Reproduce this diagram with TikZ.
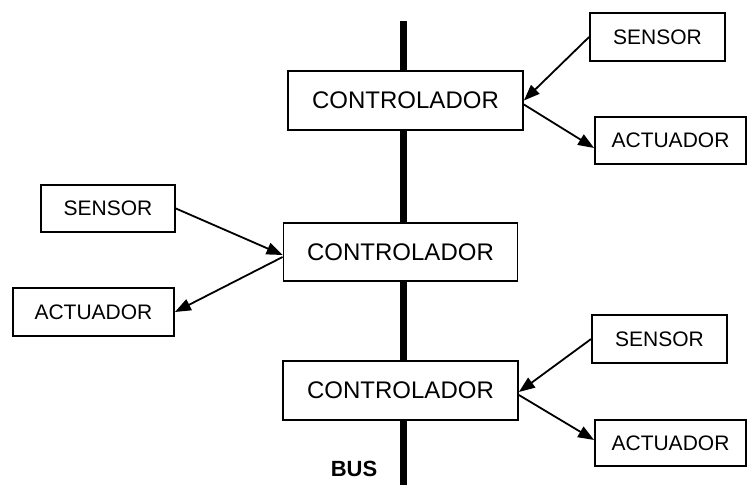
\documentclass[tikz,border=0pt]{standalone}
\usepackage{fontspec}
\setmainfont{Liberation Sans}
\usetikzlibrary{arrows.meta}

\begin{document}
\begin{tikzpicture}[x=1pt,y=-1pt,
  ctrlbox/.style={draw,line width=1.8pt,fill=white,inner sep=0pt,
    minimum width=235pt,minimum height=59pt,font=\fontsize{24}{28}\selectfont},
  iobox/.style={draw,line width=1.8pt,fill=white,inner sep=0pt,
    minimum height=47pt,font=\fontsize{21}{25}\selectfont},
  sig/.style={-{Triangle[length=16pt,width=12pt]},line width=1.8pt}]
\useasboundingbox (0,0) rectangle (748,485);
% bus
\coordinate (busTop) at (403,21);
\coordinate (busBot) at (403,485);
\draw[line width=7pt] (busTop) -- (busBot);
\node[font=\fontsize{22}{26}\selectfont\bfseries] (busLbl) at (354,469) {BUS};
% controllers
\node[ctrlbox] (ctrlA) at (405.5,100.5) {CONTROLADOR};
\node[ctrlbox,minimum width=234pt,minimum height=58pt] (ctrlB) at (400.5,252) {CONTROLADOR};
\node[ctrlbox] (ctrlC) at (400.5,390.5) {CONTROLADOR};
% sensors and actuators
\node[iobox,minimum width=135pt,minimum height=48pt] (sensA) at (657.5,37) {SENSOR};
\node[iobox,minimum width=151pt] (actA) at (670.5,140.5) {ACTUADOR};
\node[iobox,minimum width=134pt] (sensB) at (108,208.5) {SENSOR};
\node[iobox,minimum width=161pt,minimum height=48pt] (actB) at (93.5,312) {ACTUADOR};
\node[iobox,minimum width=135pt,minimum height=48pt] (sensC) at (659.5,339) {SENSOR};
\node[iobox,minimum width=151pt,minimum height=46pt] (actC) at (670.5,443) {ACTUADOR};
% signals
\draw[sig] (sensA.west) -- (ctrlA.east);
\draw[sig] ([yshift=-4pt]ctrlA.east) -- ([yshift=-7.5pt]actA.west);
\draw[sig] (sensB.east) -- ([yshift=-3pt]ctrlB.west);
\draw[sig] ([yshift=-5pt]ctrlB.west) -- (actB.east);
\draw[sig] (sensC.west) -- ([yshift=-1.5pt]ctrlC.east);
\draw[sig] ([yshift=-4.5pt]ctrlC.east) -- ([yshift=3pt]actC.west);
\end{tikzpicture}
\end{document}
